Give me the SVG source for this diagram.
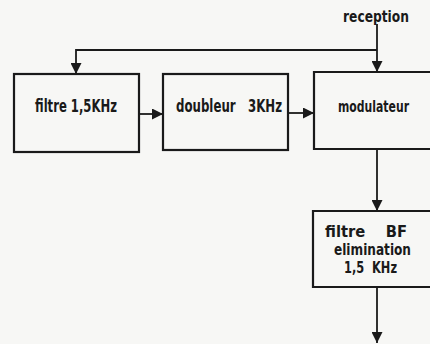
<svg xmlns="http://www.w3.org/2000/svg" width="430" height="344" viewBox="0 0 430 344">
<style>
.box{fill:none;stroke:#1a1a1a;stroke-width:2.2}
.ln{fill:none;stroke:#1a1a1a;stroke-width:1.8}
.t{font-family:"Liberation Sans Narrow","DejaVu Sans Condensed","Liberation Sans",sans-serif;font-weight:bold;fill:#1a1a1a}
</style>
<defs>
<marker id="ahb" viewBox="0 0 10 10" refX="10" refY="5" markerWidth="13" markerHeight="11" markerUnits="userSpaceOnUse" orient="auto">
<path d="M0,0 L10,5 L0,10 Z" fill="#1a1a1a"/>
</marker>
</defs>
<rect width="430" height="344" fill="#f7f7f5"/>
<g id="connectors">
<polyline class="ln" points="377,24 377,72" marker-end="url(#ahb)"/>
<polyline class="ln" points="377,50 76,50 76,74" marker-end="url(#ahb)"/>
<line class="ln" x1="139" y1="114" x2="163" y2="114" marker-end="url(#ahb)"/>
<line class="ln" x1="288" y1="113" x2="314" y2="113" marker-end="url(#ahb)"/>
<line class="ln" x1="377" y1="150" x2="377" y2="211" marker-end="url(#ahb)"/>
<line class="ln" x1="377" y1="287" x2="377" y2="343" marker-end="url(#ahb)"/>
</g>
<g id="reception">
<text class="t" x="343" y="22" font-size="15" textLength="66" lengthAdjust="spacingAndGlyphs">reception</text>
</g>
<g id="filtre">
<rect class="box" x="14" y="74" width="125" height="78"/>
<text class="t" x="35" y="112" font-size="17" textLength="82" lengthAdjust="spacingAndGlyphs">filtre 1,5KHz</text>
</g>
<g id="doubleur">
<rect class="box" x="163" y="74" width="125" height="76"/>
<text class="t" x="176" y="112" font-size="17" textLength="106" lengthAdjust="spacingAndGlyphs" xml:space="preserve">doubleur   3KHz</text>
</g>
<g id="modulateur">
<path class="box" d="M430,72 H314 V149 H430"/>
<text class="t" x="338" y="112" font-size="15" textLength="71" lengthAdjust="spacingAndGlyphs">modulateur</text>
</g>
<g id="filtreBF">
<path class="box" d="M430,211 H313 V287 H430"/>
<text class="t" x="325" y="237" font-size="16" textLength="82" lengthAdjust="spacingAndGlyphs" xml:space="preserve">filtre    BF</text>
<text class="t" x="334" y="255" font-size="16" textLength="77" lengthAdjust="spacingAndGlyphs">elimination</text>
<text class="t" x="344" y="273" font-size="16" textLength="53" lengthAdjust="spacingAndGlyphs" xml:space="preserve">1,5  KHz</text>
</g>
</svg>
